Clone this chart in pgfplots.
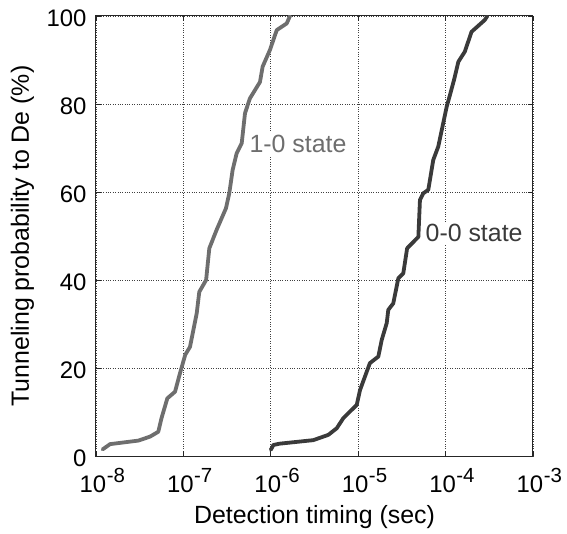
\documentclass[border=0pt]{standalone}
\usepackage{fontspec}
\setmainfont{Liberation Sans}
\usepackage{pgfplots}
\pgfplotsset{compat=1.18}
\definecolor{curveA}{RGB}{110,110,110}
\definecolor{curveB}{RGB}{58,58,58}
% MATLAB-like label: "10" centred on the tick, exponent hanging right
\newcommand{\tenexp}[1]{10\rlap{\kern0.5bp\raisebox{10bp}{\fontsize{20.5}{20}\selectfont #1}}}

\begin{document}
\begin{tikzpicture}
\begin{axis}[
    at={(0,0)}, anchor=south west,
    scale only axis,
    width=437bp, height=440bp,
    xmode=log,
    xmin=1e-8, xmax=1e-3,
    ymin=0, ymax=100,
    xtick={1e-8,1e-7,1e-6,1e-5,1e-4,1e-3},
    xticklabels={\tenexp{-8},\tenexp{-7},\tenexp{-6},\tenexp{-5},\tenexp{-4},\tenexp{-3}},
    xminorticks=false,
    ytick={0,20,40,60,80,100},
    tick align=inside,
    major tick length=5bp,
    xtick pos=both, ytick pos=both,
    tick style={black!85, line width=0.8pt},
    axis line style={black!85, line width=1pt},
    grid=major,
    major grid style={dotted, black!75, line width=0.6pt},
    ticklabel style={font=\fontsize{24}{28}\selectfont},
    /pgf/number format/assume math mode=true,
    xticklabel style={anchor=base, yshift=-36bp, xshift=-3bp},
    yticklabel style={xshift=-6bp, yshift=-2bp},
    every axis x label/.style={at={([yshift=-67bp]axis description cs:0.5,0)}, anchor=base, font=\fontsize{25}{29}\selectfont},
    every axis y label/.style={at={([xshift=-67bp]axis description cs:0,0.5)}, rotate=90, anchor=base, font=\fontsize{25}{29}\selectfont},
    xlabel={Detection timing (sec)},
    ylabel={Tunneling probability to De (\%)},
]
\node[font=\fontsize{25}{29}\selectfont, text=curveA, fill=white, inner sep=3bp] at (axis cs:2.05e-6,70.9) {1-0 state};
\node[font=\fontsize{25}{29}\selectfont, text=curveB, fill=white, inner sep=3bp] at (axis cs:2.12e-4,50.6) {0-0 state};

% 1-0 state
\addplot[curveA, line width=3.8bp, line join=round, line cap=round] coordinates {
    (1.19e-8,1.5) (1.45e-8,2.7) (3.05e-8,3.5) (4.15e-8,4.4) (5.16e-8,5.5)
    (5.62e-8,8.6) (6.55e-8,13.1) (8.02e-8,14.6) (9.14e-8,18.8) (1.05e-7,23)
    (1.19e-7,24.8) (1.42e-7,32.4) (1.52e-7,37.3) (1.82e-7,40) (1.98e-7,47.2)
    (2.40e-7,51.4) (3.07e-7,56.3) (3.35e-7,59.7) (3.66e-7,65) (4.07e-7,68.8)
    (4.65e-7,71.1) (5.07e-7,77.9) (5.78e-7,81.3) (7.52e-7,85) (8.07e-7,88.5)
    (9.79e-7,92.3) (1.17e-6,96.8) (1.52e-6,98.3) (1.66e-6,100)
};
% 0-0 state
\addplot[curveB, line width=3.8bp, line join=round, line cap=round] coordinates {
    (1.0e-6,1.4) (1.07e-6,2.5) (1.26e-6,2.8) (3.06e-6,3.6) (4.55e-6,4.8)
    (5.68e-6,6.3) (6.76e-6,8.6) (8.05e-6,10.1) (9.62e-6,11.6) (1.05e-5,15)
    (1.36e-5,21.1) (1.70e-5,22.6) (1.86e-5,26.4) (2.12e-5,30.2) (2.21e-5,33.2)
    (2.52e-5,34.7) (2.88e-5,40.4) (3.28e-5,41.5) (3.63e-5,47.2) (4.88e-5,49.8)
    (5.09e-5,58.2) (5.56e-5,59.7) (6.34e-5,60.5) (7.23e-5,67.3) (8.24e-5,70.3)
    (1.03e-4,79.4) (1.12e-4,82) (1.25e-4,85.5) (1.40e-4,89.6) (1.66e-4,91.9)
    (1.98e-4,96.4) (2.81e-4,99.1) (3.00e-4,100)
};
\end{axis}
\pgfresetboundingbox
\path (-96bp,-78bp) rectangle (471bp,456bp);
\end{tikzpicture}
\end{document}
